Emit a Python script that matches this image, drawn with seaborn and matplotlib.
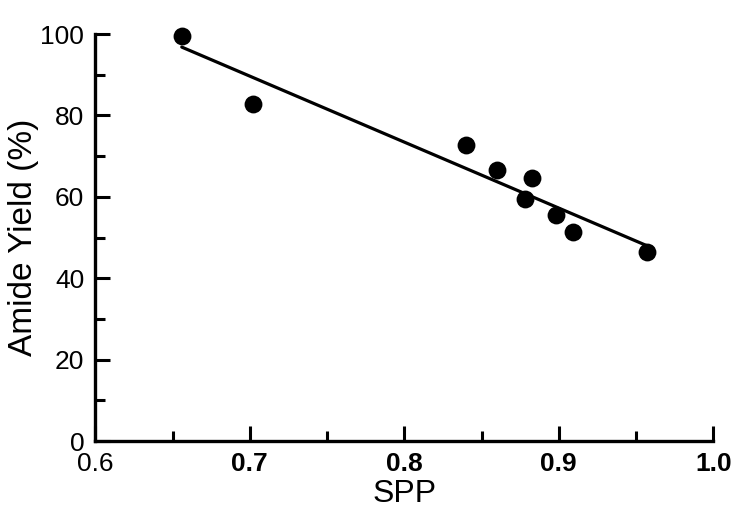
import matplotlib
matplotlib.use("Agg")
import matplotlib.pyplot as plt
from matplotlib.ticker import MultipleLocator
import seaborn as sns
import pandas as pd

# data
spp = [0.656, 0.702, 0.840, 0.860, 0.883, 0.878, 0.898, 0.909, 0.957]
amide_yield = [99.5, 82.8, 72.7, 66.6, 64.6, 59.5, 55.5, 51.4, 46.4]

x_ticks = [0.6, 0.7, 0.8, 0.9, 1.0]
x_tick_labels = ["0.6", "0.7", "0.8", "0.9", "1.0"]
y_ticks = [0, 20, 40, 60, 80, 100]

sns.set_style("ticks")
plt.rcParams["font.family"] = ["Liberation Sans", "DejaVu Sans"]
plt.rcParams["text.color"] = "black"
plt.rcParams["axes.labelcolor"] = "black"
plt.rcParams["xtick.color"] = "black"
plt.rcParams["ytick.color"] = "black"
plt.rcParams["axes.edgecolor"] = "black"

df = pd.DataFrame({"SPP": spp, "Amide Yield (%)": amide_yield})

fig = plt.figure(figsize=(7.5, 5.32), dpi=100)
ax = fig.add_axes([0.127, 0.171, 0.824, 0.765])

sns.regplot(
    data=df,
    x="SPP",
    y="Amide Yield (%)",
    ci=None,
    ax=ax,
    color="black",
    scatter_kws={"s": 165, "alpha": 1, "linewidths": 0, "clip_on": False},
    line_kws={"linewidth": 2.3},
)

ax.set_xlim(0.6, 1.0)
ax.set_ylim(0, 100)
ax.set_xticks(x_ticks)
ax.set_xticklabels(x_tick_labels)
ax.set_yticks(y_ticks)
ax.xaxis.set_minor_locator(MultipleLocator(0.05))
ax.yaxis.set_minor_locator(MultipleLocator(10))

for i, lab in enumerate(ax.get_xticklabels()):
    lab.set_fontweight("normal" if i == 0 else "bold")

ax.tick_params(which="major", direction="in", length=11, width=2.2, labelsize=19)
ax.tick_params(axis="x", which="major", pad=8)
ax.tick_params(axis="y", which="major", pad=8)
ax.tick_params(which="minor", direction="in", length=7, width=2.2)

sns.despine(ax=ax)
for side in ["left", "bottom"]:
    ax.spines[side].set_linewidth(2.4)

ax.set_xlabel("SPP", fontsize=23, labelpad=2)
ax.set_ylabel("Amide Yield (%)", fontsize=24, labelpad=1)

fig.savefig("out.png", dpi=100)
